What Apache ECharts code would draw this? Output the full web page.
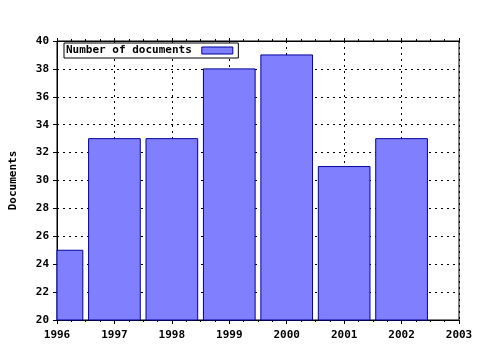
<!DOCTYPE html>
<html>
<head>
<meta charset="utf-8">
<script src="https://cdn.jsdelivr.net/npm/echarts@6/dist/echarts.min.js"></script>
<style>html,body{margin:0;padding:0;background:#fff;}#c{width:480px;height:350px;}</style>
</head>
<body>
<div id="c"></div>
<script>
var years = [1996, 1997, 1998, 1999, 2000, 2001, 2002];
var documents = [25, 33, 33, 38, 39, 31, 33];
var seriesName = 'Number of documents';
var yAxisName = 'Documents';

var FONT = '"DejaVu Sans Mono", monospace';
var BAR_FRAC = 0.9;
var chart = echarts.init(document.getElementById('c'), null, {renderer: 'canvas'});
var data = years.map(function (y, i) { return [y, documents[i]]; });
var barStyle = {color: '#8080ff', borderColor: '#0000a0', borderWidth: 1};
chart.setOption({
  backgroundColor: '#fff',
  animation: false,
  grid: {left: 57, right: 21, top: 41, bottom: 30, show: true, borderColor: '#000', borderWidth: 1, backgroundColor: 'transparent'},
  legend: {
    show: true, left: 64, top: 43, orient: 'horizontal', align: 'right',
    backgroundColor: '#fff', borderColor: '#000', borderWidth: 1, borderRadius: 0,
    padding: [2, 5, 2, 2], itemWidth: 31, itemHeight: 7,
    textStyle: {fontFamily: FONT, fontWeight: 'bold', fontSize: 11, color: '#000', padding: [0, 5, 0, 0]},
    data: [{name: seriesName, icon: 'rect', itemStyle: barStyle}]
  },
  xAxis: [{
    type: 'value', min: 1996, max: 2003, interval: 1,
    axisLine: {show: true, lineStyle: {color: '#000', width: 1}},
    axisTick: {show: true, inside: false, length: 4, lineStyle: {color: '#000'}},
    minorTick: {show: true, splitNumber: 4, length: 2, lineStyle: {color: '#000'}},
    axisLabel: {fontFamily: FONT, fontWeight: 'bold', fontSize: 11, color: '#000', margin: 10, formatter: function (v) { return String(v); }},
    splitLine: {show: true, lineStyle: {color: '#000', type: [2, 4], width: 1}}
  }, {
    type: 'value', position: 'top', min: 1996, max: 2003, interval: 1,
    axisLine: {show: true, lineStyle: {color: '#000'}},
    axisTick: {show: true, inside: false, length: 3, lineStyle: {color: '#000'}},
    minorTick: {show: true, splitNumber: 4, length: 2, lineStyle: {color: '#000'}},
    axisLabel: {show: false}, splitLine: {show: false}
  }],
  yAxis: {
    type: 'value', min: 20, max: 40, interval: 2,
    name: yAxisName, nameLocation: 'middle', nameGap: 38, nameRotate: 90,
    nameTextStyle: {fontFamily: FONT, fontWeight: 'bold', fontSize: 11, color: '#000'},
    axisLine: {show: true, lineStyle: {color: '#000', width: 1}},
    axisTick: {show: true, inside: false, length: 4, lineStyle: {color: '#000'}},
    axisLabel: {fontFamily: FONT, fontWeight: 'bold', fontSize: 11, color: '#000', margin: 8},
    splitLine: {show: true, lineStyle: {color: '#000', type: [2, 4], width: 1}}
  },
  series: [{
    name: seriesName, type: 'custom', xAxisIndex: 0, yAxisIndex: 0, data: data,
    encode: {x: 0, y: 1},
    itemStyle: barStyle,
    renderItem: function (params, api) {
      var x = api.value(0), v = api.value(1);
      var p0 = api.coord([x - BAR_FRAC / 2, v]);
      var p1 = api.coord([x + BAR_FRAC / 2, 20]);
      var rect = echarts.graphic.clipRectByRect(
        {x: p0[0], y: p0[1], width: p1[0] - p0[0], height: p1[1] - p0[1]},
        {x: params.coordSys.x, y: params.coordSys.y, width: params.coordSys.width, height: params.coordSys.height}
      );
      if (!rect) return null;
      return {type: 'rect', shape: rect, style: {fill: barStyle.color, stroke: barStyle.borderColor, lineWidth: 1}};
    }
  }]
});
</script>
</body>
</html>
